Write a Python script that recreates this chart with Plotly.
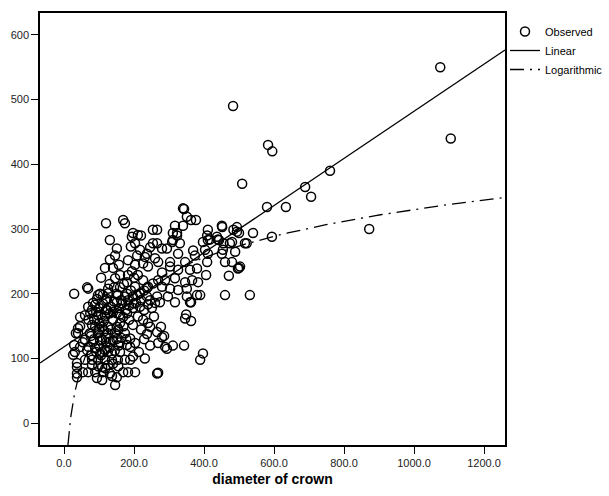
import numpy as np
import plotly.graph_objects as go

# Observed points: crown diameter (x) and value (y)
obs_x = [
    1075, 1105, 872, 760, 689, 706, 580, 634, 594, 540,
    531, 460, 389, 483, 583, 595, 509, 340, 411, 452,
    494, 522, 411, 403, 443, 455, 474, 489, 500, 484,
    409, 460, 480, 406, 471, 500, 397, 389, 454, 503,
    274, 317, 363, 349, 346, 363, 277, 286, 269, 294,
    311, 343, 269,
    343, 351, 377, 363, 317, 340, 451, 494, 409, 311,
    323, 266, 266, 280, 294, 309, 331, 397, 417, 440,
    480, 517, 451, 411, 374, 326, 303, 269, 346, 497,
    303, 380, 360, 326, 280, 289, 317, 346, 366, 383,
    280, 303, 326, 351, 380, 269, 266, 297,
    120, 169, 174, 197, 220, 131, 203, 191, 151, 146,
    209, 131, 231, 254, 254, 117, 140, 203, 226, 240,
    160, 183, 211, 146, 180, 226, 203, 240, 126, 69,
    29, 97, 111, 154, 174, 217, 197, 237, 254,
    83, 60, 97, 131, 151, 169, 46, 40, 80, 89,
    109, 126, 151, 197, 74, 97, 126, 146, 174, 60,
    83, 109, 131, 189, 203, 180, 46, 66, 89, 117,
    137, 31, 26, 60, 80, 97, 117, 137, 154, 174,
    189, 80, 109, 126, 69, 89, 111, 131, 54, 37,
    37, 169, 183, 203, 94, 109, 146, 137,
    194, 211, 237, 311, 323, 369, 437, 66, 103, 126,
    151, 183, 209, 237, 246, 351, 360, 226, 246, 266,
    280, 289, 189, 197, 151, 266, 46, 40, 34, 29,
    37, 37,
    69, 80, 89, 100, 111, 120, 134, 143, 157, 166,
    177, 186, 197, 206, 217, 229, 240, 251, 260, 86,
    114, 140, 160, 186, 211, 94, 123, 163, 191, 229,
    143, 171, 106, 194, 157, 183, 217, 246, 260, 109,
    100, 120, 157, 163, 77, 54, 70, 100, 117, 229,
    214, 231, 246, 220, 240, 257, 237,
    75, 92, 106, 123, 140, 160, 180, 100, 115, 135,
    155, 170, 85, 103, 120, 140, 160, 178, 92, 106,
    125, 145, 160, 98, 118, 140, 155, 103, 130, 150,
    70, 78, 120, 150, 180, 200, 220, 130, 160, 200,
]
obs_y = [
    550, 440, 300, 390, 365, 350, 334, 334, 288, 294,
    198, 198, 198, 490, 430, 420, 370, 332, 299, 303,
    303, 278, 283, 268, 283, 278, 278, 265, 294, 299,
    249, 249, 249, 229, 228, 240, 108, 98, 268, 242,
    187, 187, 187, 168, 162, 158, 149, 135, 124, 115,
    120, 120, 78,
    331, 319, 314, 314, 305, 305, 305, 296, 290, 294,
    290, 299, 278, 270, 270, 280, 278, 280, 284, 284,
    280, 278, 262, 262, 259, 262, 249, 249, 249, 239,
    242, 239, 237, 237, 233, 221, 224, 218, 221, 218,
    211, 208, 206, 208, 198, 221, 196, 196,
    309, 314, 309, 294, 290, 283, 278, 273, 270, 259,
    259, 253, 257, 278, 299, 240, 240, 245, 247, 242,
    229, 229, 229, 224, 218, 221, 211, 211, 208, 208,
    200, 198, 198, 198, 196, 201, 196, 196, 216,
    186, 167, 167, 170, 170, 164, 150, 139, 152, 149,
    149, 149, 149, 152, 139, 139, 139, 139, 139, 129,
    126, 129, 126, 131, 124, 121, 118, 113, 116, 113,
    108, 110, 106, 98, 98, 98, 98, 98, 98, 98,
    98, 90, 87, 90, 79, 79, 79, 77, 79, 77,
    71, 79, 79, 79, 70, 67, 59, 73,
    288, 291, 262, 283, 294, 267, 288, 210, 200, 201,
    187, 190, 198, 209, 190, 196, 187, 160, 149, 141,
    133, 118, 118, 103, 71, 77, 164, 147, 139, 121,
    93, 87,
    180, 175, 183, 178, 185, 175, 180, 188, 178, 185,
    175, 182, 178, 186, 180, 175, 184, 178, 186, 160,
    158, 160, 155, 160, 165, 192, 192, 190, 205, 205,
    210, 215, 225, 235, 245, 252, 268, 272, 255, 110,
    120, 132, 120, 132, 135, 125, 160, 155, 165, 130,
    110, 100, 120, 145, 155, 165, 138,
    170, 172, 168, 175, 172, 168, 170, 145, 142, 145,
    145, 150, 130, 128, 125, 128, 125, 130, 110, 105,
    110, 112, 110, 88, 85, 92, 88, 108, 117, 130,
    118, 105, 190, 200, 200, 185, 190, 215, 210, 225,
]

# Fitted curves (coefficients)
linear_coef = [118.0, 0.364]        # intercept, slope
log_coef = [-230.0, 81.1]           # a + b*ln(x)

x_range = [-68.6, 1260]
y_range = [-33.5, 633.7]
x_ticks = [0, 200, 400, 600, 800, 1000, 1200]
y_ticks = [0, 100, 200, 300, 400, 500, 600]

lin_x = np.array(x_range)
lin_y = linear_coef[0] + linear_coef[1] * lin_x
log_start = np.exp((y_range[0] - log_coef[0]) / log_coef[1])
log_x = np.geomspace(log_start, x_range[1], 300)
log_y = log_coef[0] + log_coef[1] * np.log(log_x)

font_family = "Liberation Sans, Arial, sans-serif"

fig = go.Figure()
fig.add_trace(go.Scatter(
    x=obs_x, y=obs_y, mode="markers", name="Observed",
    marker=dict(symbol="circle-open", size=9, color="black",
                line=dict(width=1.5, color="black")),
))
fig.add_trace(go.Scatter(
    x=lin_x, y=lin_y, mode="lines", name="Linear",
    line=dict(color="black", width=1.3),
))
fig.add_trace(go.Scatter(
    x=log_x, y=log_y, mode="lines", name="Logarithmic",
    line=dict(color="black", width=1.3, dash="14px,6px,2px,6px"),
))

axis_common = dict(
    showgrid=False, zeroline=False, showline=True, linecolor="black",
    linewidth=1.5, mirror=True, ticks="outside", ticklen=7, tickwidth=1.2,
    tickcolor="black", tickfont=dict(family=font_family, size=11, color="#222"),
)
fig.update_xaxes(range=x_range, tickvals=x_ticks,
                 ticktext=[f"{v:.1f}" for v in x_ticks],
                 title=dict(text="<b>diameter of crown</b>",
                            font=dict(family=font_family, size=14, color="black"),
                            standoff=6),
                 **axis_common)
fig.update_yaxes(range=y_range, tickvals=y_ticks,
                 ticktext=[str(v) for v in y_ticks], **axis_common)

fig.update_layout(
    width=609, height=496,
    margin=dict(l=40, r=104, t=13, b=51, autoexpand=False),
    paper_bgcolor="white", plot_bgcolor="white",
    font=dict(family=font_family, size=11, color="black"),
    legend=dict(xref="container", yref="container",
                x=505 / 609, y=1 - 17 / 496, xanchor="left", yanchor="top",
                font=dict(family=font_family, size=11, color="black"),
                bgcolor="rgba(0,0,0,0)", tracegroupgap=0, itemwidth=30),
    showlegend=True,
)

fig.write_html("out.html")
